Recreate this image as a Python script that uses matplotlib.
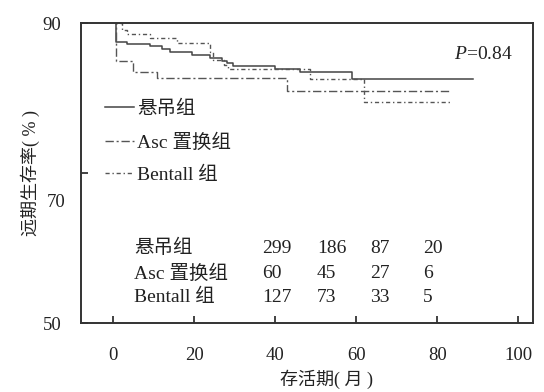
import matplotlib
matplotlib.use("Agg")
import matplotlib.pyplot as plt

# Kaplan-Meier steps (months, survival %)
susp_t = [0, 0.6, 3.3, 9.1, 11.9, 14.0, 19.4, 23.9, 26.8, 28.0, 29.6, 39.9, 46.1, 58.9, 88.9]
susp_s = [90.5, 87.5, 87.2, 86.9, 86.5, 86.2, 85.8, 85.3, 85.0, 84.7, 84.3, 83.9, 83.5, 82.5, 82.5]

asc_t = [0, 0.6, 4.9, 10.7, 42.8, 83.1]
asc_s = [90.5, 84.9, 83.5, 82.7, 80.9, 80.9]

bent_t = [0, 0.6, 2.1, 3.3, 9.1, 15.6, 23.9, 24.7, 27.2, 28.4, 48.6, 61.9, 83.1]
bent_s = [90.5, 90.0, 89.1, 88.6, 88.0, 87.3, 86.1, 85.1, 84.4, 83.9, 82.6, 79.5, 79.5]

group_names = ["悬吊组", "Asc 置换组", "Bentall 组"]
risk_counts = [[299, 186, 87, 20],
               [60, 45, 27, 6],
               [127, 73, 33, 5]]
risk_cols = [36.7, 50.3, 63.4, 76.4]   # where the count columns sit (months)
risk_rows = [60.0, 56.6, 53.4]

p_text = "=0.84"

plt.rcParams["font.family"] = ["Liberation Serif", "Noto Sans CJK SC"]
plt.rcParams["mathtext.fontset"] = "custom"
plt.rcParams["mathtext.it"] = "Liberation Serif:italic"
ink = "#222222"
fs = 14

fig = plt.figure(figsize=(5.44, 3.92), dpi=100)
ax = fig.add_axes([0.149, 0.176, 0.831, 0.765])

ax.step(susp_t, susp_s, where="post", color="#444444", lw=1.1, label=group_names[0])
ax.step(asc_t, asc_s, where="post", color="#555555", lw=1.0,
        linestyle=(0, (6, 2, 1.5, 2)), label=group_names[1])
ax.step(bent_t, bent_s, where="post", color="#555555", lw=1.0,
        linestyle=(0, (3, 2, 1, 2)), label=group_names[2])

ax.set_xlim(-8, 103.7)
ax.set_ylim(50, 90)
ax.set_xticks([0, 20, 40, 60, 80, 100])
ax.set_yticks([50, 70, 90])
ax.set_yticklabels(["50", "", "90"])
# the 70 label sits lower than its tick in the original
ax.text(-0.035, 66.1, "70", transform=ax.get_yaxis_transform(),
        ha="right", va="center", color=ink, fontsize=13.5)
ax.tick_params(direction="in", length=5, width=1.2, colors=ink, labelsize=13.5)
ax.tick_params(axis="x", pad=17)
ax.tick_params(axis="y", pad=14)
for sp in ax.spines.values():
    sp.set_linewidth(1.4)
    sp.set_color("#333333")

ax.set_xlabel("存活期( 月 )", color=ink, fontsize=13, x=0.542, labelpad=4)
ax.set_ylabel("远期生存率( % )", color=ink, fontsize=13, labelpad=2)

ax.legend(loc="upper left", bbox_to_anchor=(0.053, 0.745), frameon=False,
          handlelength=1.5, handletextpad=0.15, labelspacing=0.78,
          borderpad=0, borderaxespad=0, fontsize=fs, labelcolor=ink)

ax.text(0.955, 0.895, "$\\it{P}$" + p_text, transform=ax.transAxes,
        ha="right", va="center", color=ink, fontsize=fs)

for name, counts, yr in zip(group_names, risk_counts, risk_rows):
    ax.text(5.1, yr, name, ha="left", va="center", color=ink, fontsize=fs)
    for xc, c in zip(risk_cols, counts):
        ax.text(xc, yr, str(c), ha="left", va="center", color=ink, fontsize=fs)

fig.savefig("out.png")
